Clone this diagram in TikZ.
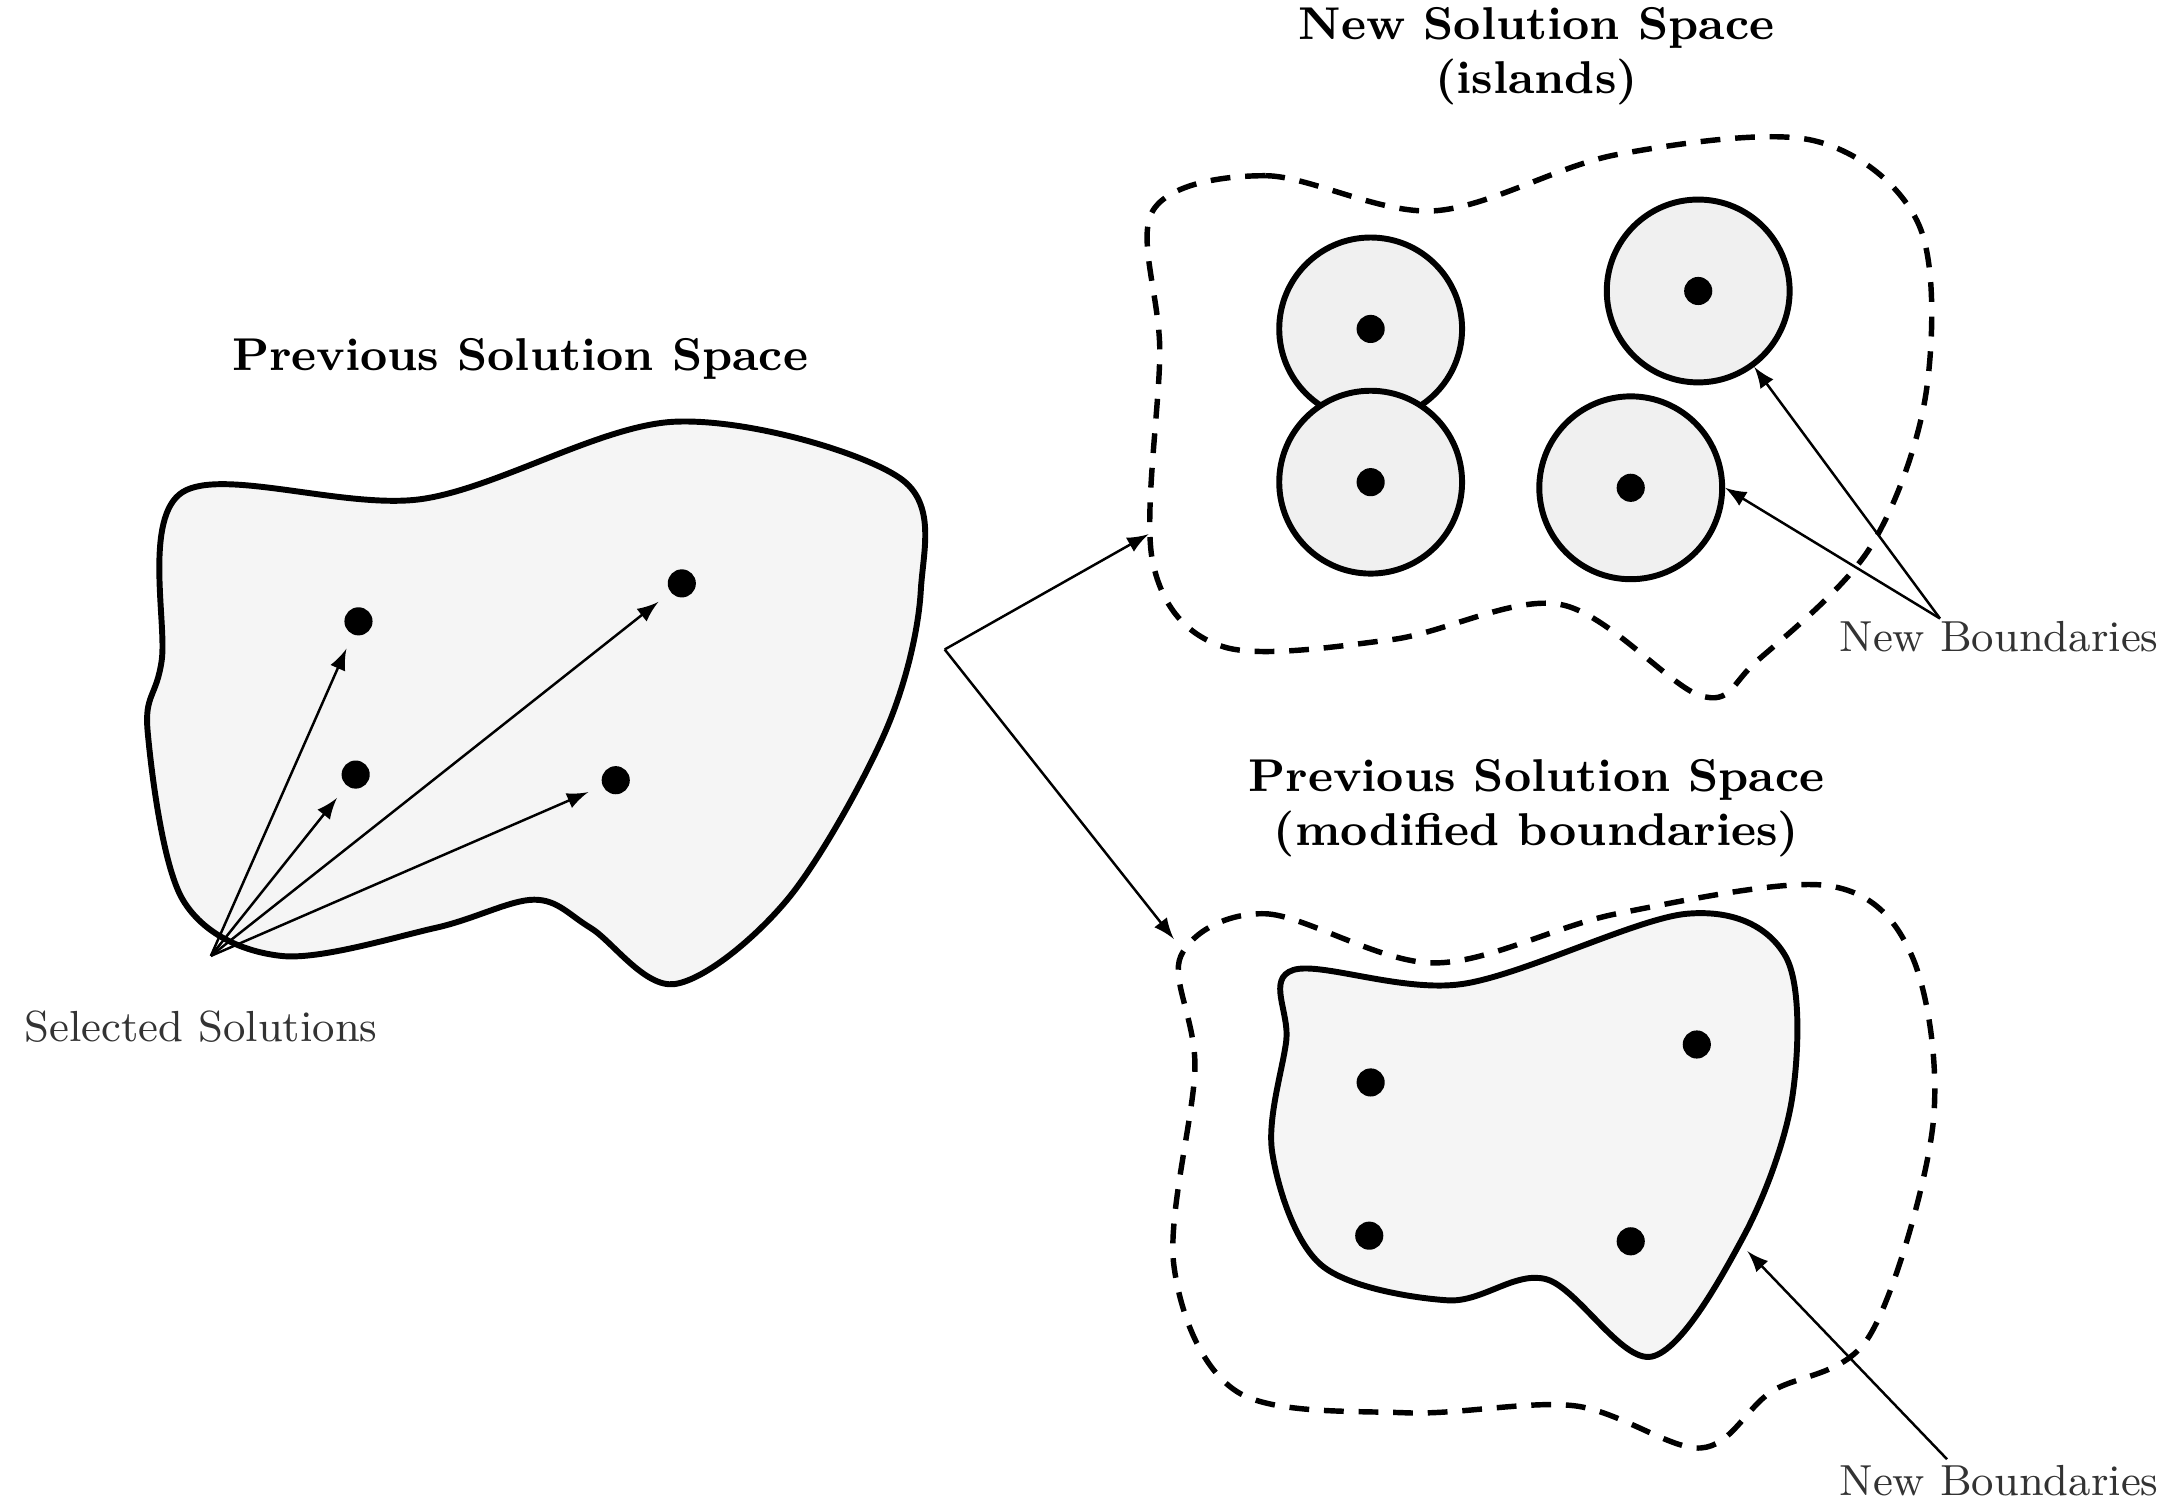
\documentclass[tikz,border=0pt]{standalone}
\usepackage{tikz}
\usetikzlibrary{arrows, positioning}
\tikzstyle{blob} = [draw=black, line width=1.2pt, fill=gray!8]
\tikzstyle{dashblob} = [draw=black, line width=1.1pt, dash pattern=on 4pt off 3pt]
\tikzstyle{island} = [circle, minimum size=1.3cm, draw=black, line width=1.2pt, fill=gray!12]
\tikzstyle{sol} = [circle, fill=black, inner sep=0pt, minimum size=0.2cm]
\tikzstyle{title} = [font=\bfseries\fontsize{9.3}{11}\selectfont, align=center]
\tikzstyle{lbl} = [font=\fontsize{8.8}{10}\selectfont, text=black!80]
\tikzstyle{arrow} = [->,>=latex, line width=0.5pt]

\begin{document}
\begin{tikzpicture}[x=0.01cm, y=-0.01cm]
\useasboundingbox (0,0) rectangle (1550,1068);

% previous solution space
\draw [blob] plot [smooth cycle, tension=0.55] coordinates {(130,350) (300,355) (480,300) (640,340) (655,420) (630,520) (560,640) (480,700) (420,660) (380,640) (310,660) (200,680) (130,640) (105,520) (115,470)};
\node (prev_title) [title] at (370,255) {Previous Solution Space};
\node (s1) [sol] at (255,442) {};
\node (s2) [sol] at (253,551) {};
\node (s3) [sol] at (485,415) {};
\node (s4) [sol] at (438,555) {};
\node (sel) [lbl] at (143,730) {Selected Solutions};
\coordinate (sel_pt) at (150,680);
\foreach \s in {s1,s2,s3,s4}
  \draw [arrow, shorten >=3pt] (sel_pt) -- (\s);

% split
\coordinate (split) at (672,462);
\coordinate (to_top) at (817,380);
\coordinate (to_bot) at (835,668);
\draw [arrow] (split) -- (to_top);
\draw [arrow] (split) -- (to_bot);

% islands
\node (isl_title) [title] at (1093,40) {New Solution Space\\(islands)};
\draw [dashblob] plot [smooth cycle, tension=0.55] coordinates {(820,150) (900,125) (1020,150) (1150,110) (1290,100) (1365,160) (1370,280) (1330,390) (1250,470) (1210,495) (1110,430) (990,455) (870,460) (820,400) (825,250)};
\node (i1) [island] at (975,234) {};
\node (i2) [island] at (975,343) {};
\node (i3) [island] at (1208,207) {};
\node (i4) [island] at (1160,347) {};
\foreach \i in {i1,i2,i3,i4}
  \node [sol] at (\i) {};
\node (nb1) [lbl] at (1422,453) {New Boundaries};
\coordinate (nb1_pt) at (1380,440);
\draw [arrow] (nb1_pt) -- (i3);
\draw [arrow] (nb1_pt) -- (i4.east);

% modified boundaries
\node (mod_title) [title] at (1093,575) {Previous Solution Space\\(modified boundaries)};
\draw [dashblob] plot [smooth cycle, tension=0.55] coordinates {(840,680) (900,650) (1020,685) (1150,650) (1300,630) (1360,680) (1375,800) (1330,950) (1260,990) (1210,1030) (1120,1000) (1000,1005) (880,990) (835,900) (850,760)};
\draw [blob] plot [smooth cycle, tension=0.55] coordinates {(920,690) (1040,700) (1200,650) (1270,680) (1275,780) (1240,880) (1175,965) (1100,910) (1030,925) (940,900) (905,820) (915,740)};
\node (m1) [sol] at (975,770) {};
\node (m2) [sol] at (1207,743) {};
\node (m3) [sol] at (974,879) {};
\node (m4) [sol] at (1160,883) {};
\node (nb2) [lbl] at (1422,1053) {New Boundaries};
\coordinate (nb2_pt) at (1385,1038);
\coordinate (mod_edge) at (1243,890);
\draw [arrow] (nb2_pt) -- (mod_edge);
\end{tikzpicture}
\end{document}
